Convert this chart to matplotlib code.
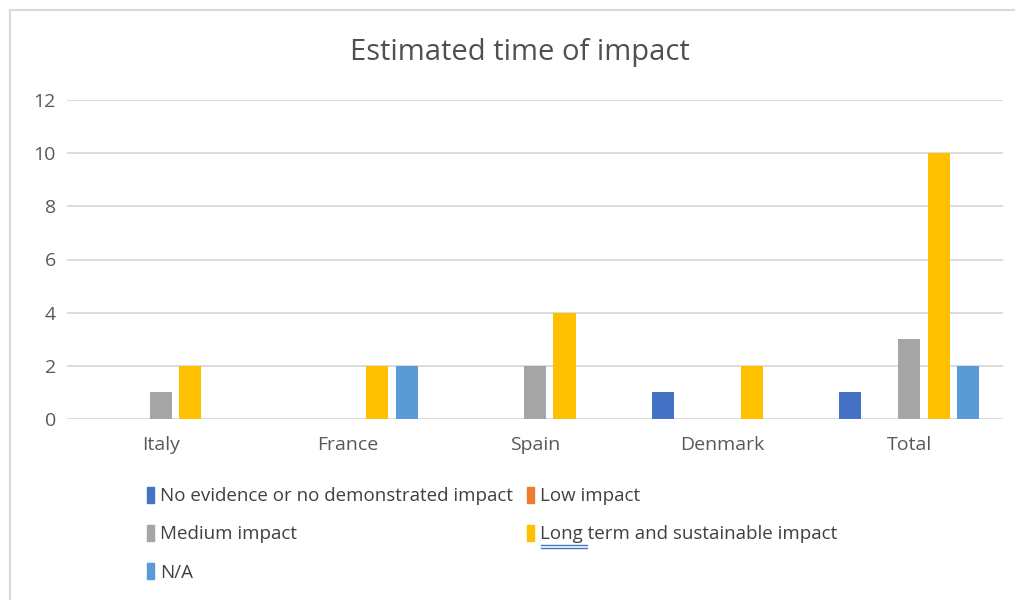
import matplotlib.pyplot as plt
import numpy as np
from matplotlib.patches import Rectangle, Patch
from matplotlib.lines import Line2D

plt.rcParams['font.family'] = ['Open Sans', 'DejaVu Sans']

countries = ["Italy", "France", "Spain", "Denmark", "Total"]
series = ["No evidence or no demonstrated impact", "Low impact", "Medium impact",
          "Long term and sustainable impact", "N/A"]
no_evidence = [0, 0, 0, 1, 1]
low = [0, 0, 0, 0, 0]
medium = [1, 0, 2, 0, 3]
long_term = [2, 2, 4, 2, 10]
na = [0, 2, 0, 0, 2]
colors = ["#4472C4", "#ED7D31", "#A5A5A5", "#FFC000", "#5B9BD5"]

values = [no_evidence, low, medium, long_term, na]

fig = plt.figure(figsize=(10.15, 6), dpi=100)
ax = fig.add_axes([0.066, 0.3017, 0.922, 0.5316])

x = np.arange(len(countries))
pitch = 0.158
width = 0.118
for i, (vals, c) in enumerate(zip(values, colors)):
    ax.bar(x + (i - 2) * pitch, vals, width, color=c, zorder=3)

ax.set_xlim(-0.5, len(countries) - 0.5)
ax.set_ylim(0, 12)
ax.set_yticks(range(0, 13, 2))
ax.set_xticks(x)
ax.set_xticklabels(countries)
ax.grid(axis='y', color='#D9D9D9', linewidth=1.3, zorder=0)
for s in ax.spines.values():
    s.set_visible(False)
ax.tick_params(axis='both', length=0, labelsize=14, colors='#595959')
ax.tick_params(axis='x', pad=12)
ax.tick_params(axis='y', pad=8)

fig.text(0.512, 0.913, "Estimated time of impact", ha='center', va='center',
         fontsize=21, color='#505050')

# legend, row-wise order like the original
order = [0, 2, 4, 1, 3]
handles = [Patch(color=colors[k]) for k in order]
labels = [series[k] for k in order]
fig.legend(handles, labels, ncol=2, loc='upper left', bbox_to_anchor=(0.128, 0.217),
           frameon=False, fontsize=13.5, labelcolor='#404040', handlelength=0.4,
           handleheight=0.95, handletextpad=0.3, columnspacing=0.75, labelspacing=1.05)

# spellcheck underline under "Long"
fig.add_artist(Line2D([0.533, 0.578], [0.092, 0.092], color='#4472C4', lw=1))
fig.add_artist(Line2D([0.533, 0.578], [0.087, 0.087], color='#4472C4', lw=1))

# chart border
fig.add_artist(Rectangle((0.01, -0.01), 1.0, 0.993, transform=fig.transFigure,
                         fill=False, edgecolor='#D9D9D9', lw=1.5))

fig.savefig("out.png", dpi=100)
